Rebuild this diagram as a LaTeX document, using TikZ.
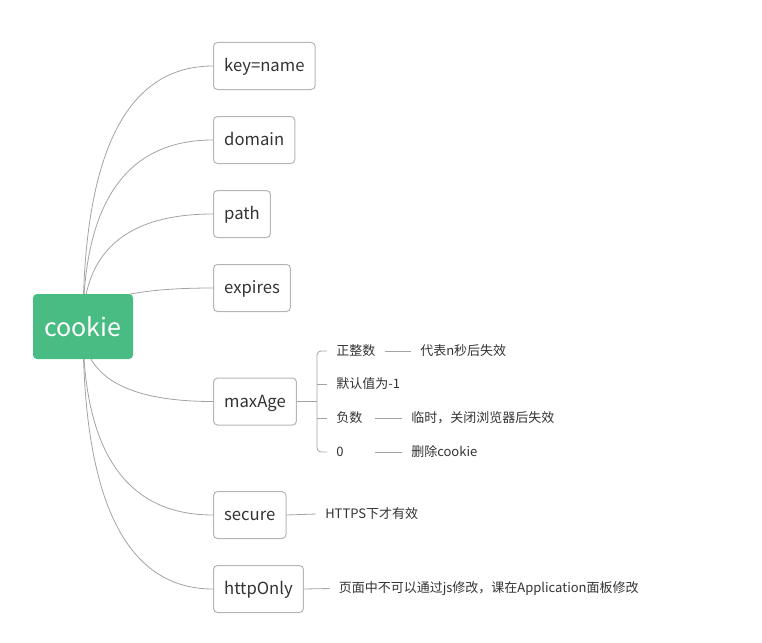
\documentclass[tikz,border=0pt]{standalone}
\usepackage{fontspec}
\setmainfont{Noto Sans CJK SC}
\usetikzlibrary{calc,backgrounds}
\definecolor{cookiegreen}{HTML}{48BC82}
\definecolor{linegray}{HTML}{A3A3A3}
\definecolor{boxgray}{HTML}{B5B5B5}
\definecolor{textgray}{HTML}{333333}
\begin{document}
\begin{tikzpicture}[x=0.75pt,y=-0.75pt,
	attr/.style={draw=boxgray, line width=0.75pt, rounded corners=3pt, minimum height=35.25pt, inner xsep=8pt, text height=10.5pt, text depth=2pt, font=\fontsize{12.5}{15}\selectfont, text=textgray, anchor=west},
	leaf/.style={inner xsep=6.75pt, inner ysep=2pt, font=\fontsize{9.75}{12}\selectfont, text=textgray, anchor=west},
	branch/.style={draw=linegray, line width=0.6pt, to path={.. controls ($(\tikztostart)!2/3!(\tikztostart|-\tikztotarget)$) and ($(\tikztotarget)!2/3!(\tikztostart|-\tikztotarget)$) .. (\tikztotarget)}},
	twig/.style={draw=linegray, line width=0.6pt}]
	\useasboundingbox (0,0) rectangle (762,642);
	\node[fill=cookiegreen, rounded corners=3pt, minimum width=75pt, minimum height=48.75pt, text=white, text height=16pt, text depth=0.5pt, font=\fontsize{18.75}{22}\selectfont] (cookie) at (83,326.5) {cookie};
	% first level
	\node[attr] (keyname) at (213,66) {key=name};
	\node[attr] (domain) at (213,140) {domain};
	\node[attr] (path) at (213,214) {path};
	\node[attr] (expires) at (213,288) {expires};
	\node[attr] (maxage) at (213,401.5) {maxAge};
	\node[attr] (secure) at (213,515) {secure};
	\node[attr] (httponly) at (213,589) {httpOnly};
	\begin{scope}[on background layer]
		\foreach \n in {keyname,domain,path,expires,maxage,secure,httponly}
			\draw[branch] (cookie.center) to (\n.west);
	\end{scope}
	% maxAge
	\coordinate (fork) at (317,401.5);
	\node[leaf] (zheng) at (327,351) {正整数};
	\node[leaf] (moren) at (327,384) {默认值为-1};
	\node[leaf, text width=21.75pt] (fushu) at (327,418) {负数};
	\node[leaf, text width=21.75pt] (zero) at (327,452) {0};
	\node[leaf] (daibiao) at (411,351) {代表n秒后失效};
	\node[leaf] (linshi) at (402,418) {临时，关闭浏览器后失效};
	\node[leaf] (shanchu) at (402,452) {删除cookie};
	\draw[twig] (maxage.east) -- (fork);
	\draw[twig, rounded corners=3pt] (zheng.west) -| (fork) |- (zero.west);
	\draw[twig] (fork |- moren.west) -- (moren.west);
	\draw[twig] (fork |- fushu.west) -- (fushu.west);
	\draw[twig] (zheng.east) -- (daibiao.west);
	\draw[twig] (fushu.east) -- (linshi.west);
	\draw[twig] (zero.east) -- (shanchu.west);
	% secure, httpOnly
	\node[leaf] (https) at (316,514) {HTTPS下才有效};
	\node[leaf] (yemian) at (329.5,588.5) {页面中不可以通过js修改，课在Application面板修改};
	\draw[twig] (secure.east) -- (https.west);
	\draw[twig] (httponly.east) -- (yemian.west);
\end{tikzpicture}
\end{document}
